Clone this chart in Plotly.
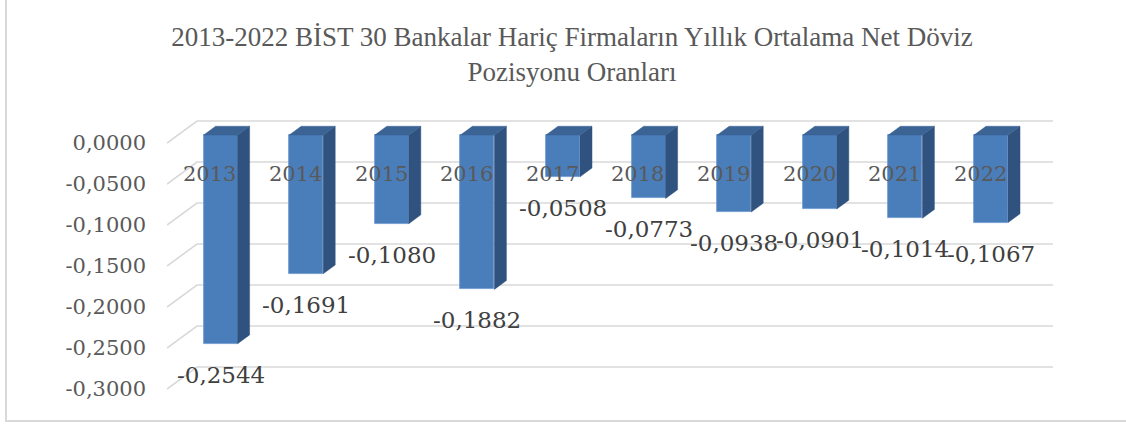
import plotly.graph_objects as go

# data
years = ['2013', '2014', '2015', '2016', '2017', '2018', '2019', '2020', '2021', '2022']
oranlar = [-0.2544, -0.1691, -0.1080, -0.1882, -0.0508, -0.0773, -0.0938, -0.0901, -0.1014, -0.1067]
tick_vals = [0.0, -0.05, -0.10, -0.15, -0.20, -0.25, -0.30]

def tr(v, nd=4):
    return f"{v:.{nd}f}".replace('.', ',')

tick_text = [tr(v) for v in tick_vals]

# page geometry (pixels)
W, H = 1126, 425
L, R, T, B = 167, 60, 110, 10
px_cat = 85.6      # pixels per category
px_unit = 820.0    # pixels per 1.0 of value
zero_px = 143      # pixel row of the 0 line on the front edge

plot_w = W - L - R
plot_h = H - T - B
x_rng = [-0.5, -0.5 + plot_w / px_cat]
y_top = (zero_px - T) / px_unit
y_rng = [y_top - plot_h / px_unit, y_top]

# fake 3D depth: full depth of the floor, in axis units
dxd = 30 / px_cat
dyd = 22 / px_unit
bx, by = 0.36 * dxd, 0.36 * dyd      # bar front plane
sx, sy = 0.40 * dxd, 0.40 * dyd      # bar depth
bw = 34 / px_cat                     # bar width

blue = '#4A7EBB'
side = '#30527F'
top = '#3B6394'

fig = go.Figure()

xs = [i + bx for i in range(len(years))]

fig.add_trace(go.Bar(
    x=xs, y=oranlar, base=[by] * len(years), width=bw,
    marker=dict(color=blue, line=dict(color='#6A98CF', width=0.8)),
    hoverinfo='skip', showlegend=False,
))

# side faces and top faces
side_x, side_y, top_x, top_y = [], [], [], []
for x, v in zip(xs, oranlar):
    xl, xr = x - bw / 2, x + bw / 2
    side_x += [xr, xr + sx, xr + sx, xr, xr, None]
    side_y += [by, by + sy, by + sy + v, by + v, by, None]
    top_x += [xl, xr, xr + sx, xl + sx, xl, None]
    top_y += [by, by, by + sy, by + sy, by, None]

fig.add_trace(go.Scatter(x=side_x, y=side_y, mode='lines', fill='toself',
                         fillcolor=side, line=dict(color=side, width=0.5),
                         hoverinfo='skip', showlegend=False))
fig.add_trace(go.Scatter(x=top_x, y=top_y, mode='lines', fill='toself',
                         fillcolor=top, line=dict(color=top, width=0.5),
                         hoverinfo='skip', showlegend=False))

# gridlines: left wall diagonal + back wall line
path = ''
for v in tick_vals:
    path += f'M {-0.5},{v} L {-0.5 + dxd},{v + dyd} L {len(years) - 0.5 + dxd},{v + dyd} '
shapes = [dict(type='path', path=path, xref='x', yref='y', layer='below',
               line=dict(color='#D9D9D9', width=1.6))]

# chart border
shapes.append(dict(type='rect', xref='paper', yref='paper',
                   x0=(6 - L) / plot_w, x1=(W + 5 - L) / plot_w,
                   y0=(H - B - 421) / plot_h, y1=(H - B + 5) / plot_h,
                   line=dict(color='#D9D9D9', width=2), layer='below'))

annotations = []
for i, yr in enumerate(years):
    annotations.append(dict(x=i, y=0, xref='x', yref='y', text=yr, showarrow=False,
                            yshift=-31, font=dict(family='DejaVu Serif', size=21, color='#595959')))
for x, v in zip(xs, oranlar):
    annotations.append(dict(x=x, y=by + v, xref='x', yref='y', text=tr(v), showarrow=False,
                            yshift=-31, font=dict(family='DejaVu Serif', size=23, color='#404040')))

fig.update_layout(
    width=W, height=H,
    margin=dict(l=L, r=R, t=T, b=B),
    paper_bgcolor='white', plot_bgcolor='white',
    title=dict(text='2013-2022 BİST 30 Bankalar Hariç Firmaların Yıllık Ortalama Net Döviz<br>Pozisyonu Oranları',
               x=572 / W, xanchor='center', y=1 - 46 / H, yanchor='top', yref='container',
               font=dict(family='Liberation Serif', size=27, color='#595959')),
    xaxis=dict(range=x_rng, showgrid=False, zeroline=False, showticklabels=False,
               ticks='', showline=False, fixedrange=True),
    yaxis=dict(range=y_rng, showgrid=False, zeroline=False, tickvals=tick_vals,
               ticktext=tick_text, ticks='', ticklabelstandoff=20, showline=False,
               tickfont=dict(family='DejaVu Serif', size=21, color='#595959')),
    shapes=shapes,
    annotations=annotations,
    bargap=0,
)

fig.write_html("out.html", config={'displayModeBar': False},
               post_script="document.body.style.margin='0';")
